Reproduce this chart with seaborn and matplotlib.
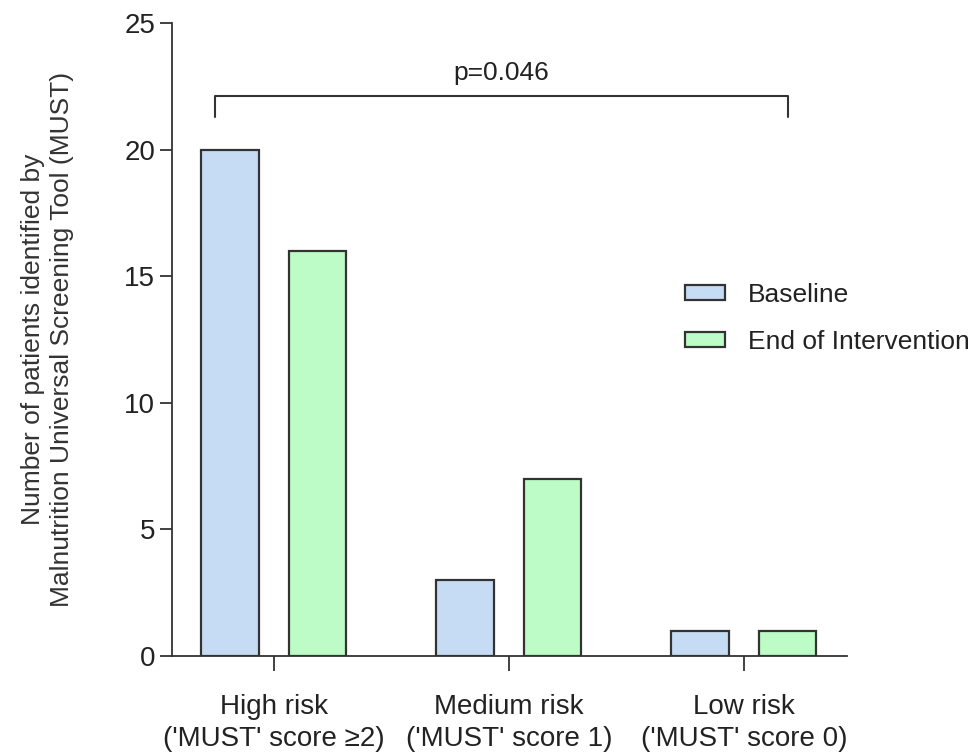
import matplotlib
matplotlib.use("Agg")
import matplotlib.pyplot as plt
import seaborn as sns
import pandas as pd

categories = ["High risk\n('MUST' score \u22652)", "Medium risk\n('MUST' score 1)", "Low risk\n('MUST' score 0)"]
baseline = [20, 3, 1]
end_of_intervention = [16, 7, 1]
series_names = ["Baseline", "End of Intervention"]
p_label = "p=0.046"
y_ticks = [0, 5, 10, 15, 20, 25]

df = pd.DataFrame({
    "category": categories * 2,
    "count": baseline + end_of_intervention,
    "timepoint": [series_names[0]] * 3 + [series_names[1]] * 3,
})

sns.set_style("white")
plt.rcParams["font.family"] = ["Liberation Sans", "DejaVu Sans"]

fig = plt.figure(figsize=(9.79, 7.55), dpi=100)
ax = fig.add_axes([0.1757, 0.131, 0.6893, 0.8385])

palette = {"Baseline": "#c6dcf5", "End of Intervention": "#bdfcc6"}
sns.barplot(data=df, x="category", y="count", hue="timepoint", palette=palette,
            width=0.748, gap=0.35, edgecolor="#333333", linewidth=1.6,
            saturation=1, ax=ax, errorbar=None)

ax.set_xlim(-0.434, 2.438)
ax.set_ylim(0, 25)
ax.set_yticks(y_ticks)
ax.tick_params(axis="y", labelsize=20, length=9, width=1.3, color="#333333",
               direction="out", left=True, pad=3, labelcolor="#222222")
ax.tick_params(axis="x", labelsize=20, length=11, width=1.3, color="#333333",
               direction="out", bottom=True, pad=16, labelcolor="#222222")
for lbl in ax.get_xticklabels():
    lbl.set_linespacing(1.3)
ax.set_xlabel("")
ax.set_ylabel("Number of patients identified by\nMalnutrition Universal Screening Tool (MUST)",
              fontsize=19, color="#333333", labelpad=36, linespacing=1.3)

for side in ["top", "right"]:
    ax.spines[side].set_visible(False)
for side in ["left", "bottom"]:
    ax.spines[side].set_color("#333333")
    ax.spines[side].set_linewidth(1.3)

# significance bracket across the groups
bx0, bx1, by, bdrop = -0.25, 2.187, 22.1, 0.8
ax.plot([bx0, bx0, bx1, bx1], [by - bdrop, by, by, by - bdrop],
        color="#333333", lw=1.5, clip_on=False)
ax.text((bx0 + bx1) / 2, by + 0.45, p_label, ha="center", va="bottom",
        fontsize=19, color="#222222")

leg = ax.legend(loc="upper left", bbox_to_anchor=(685 / 979, 1 - 283 / 755),
                bbox_transform=fig.transFigure, frameon=False, fontsize=19,
                borderpad=0, borderaxespad=0,
                handlelength=1.5, handleheight=0.5, handletextpad=0.87,
                labelspacing=0.88)
for t in leg.get_texts():
    t.set_color("#222222")

fig.savefig("out.png", dpi=100)
